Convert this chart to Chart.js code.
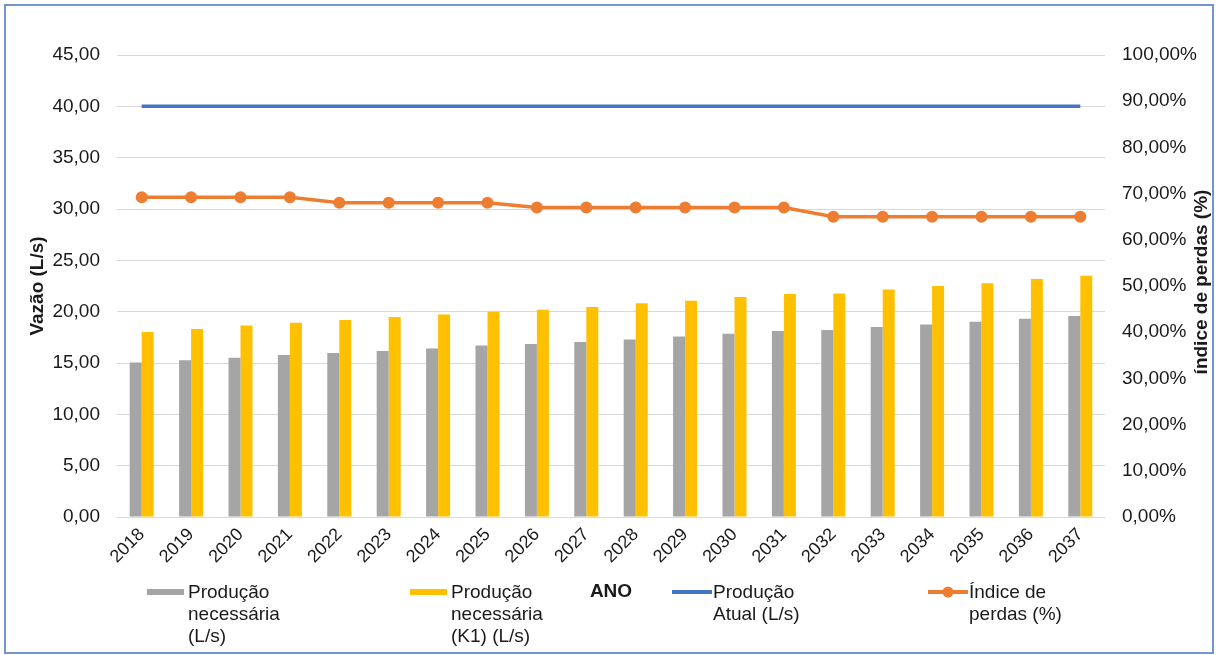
<!DOCTYPE html>
<html>
<head>
<meta charset="utf-8">
<script src="https://cdn.jsdelivr.net/npm/chart.js@4.4.1/dist/chart.umd.min.js"></script>
<style>
  html, body { margin: 0; padding: 0; background: #fff; }
  #wrap { position: relative; width: 1218px; height: 655px; }
</style>
</head>
<body>
<div id="wrap"><canvas id="chart" width="1218" height="655"></canvas></div>
<script>
// data
const anos = ['2018', '2019', '2020', '2021', '2022', '2023', '2024', '2025', '2026', '2027',
              '2028', '2029', '2030', '2031', '2032', '2033', '2034', '2035', '2036', '2037'];
const producaoNecessaria = [15.06, 15.26, 15.51, 15.77, 15.97, 16.16, 16.42, 16.71, 16.85, 17.04,
                            17.30, 17.59, 17.85, 18.11, 18.21, 18.50, 18.76, 19.02, 19.31, 19.57];
const producaoK1 = [18.01, 18.30, 18.66, 18.92, 19.18, 19.47, 19.73, 19.99, 20.19, 20.45,
                    20.81, 21.06, 21.42, 21.71, 21.78, 22.17, 22.49, 22.78, 23.17, 23.50];
const producaoAtual = [40, 40, 40, 40, 40, 40, 40, 40, 40, 40,
                       40, 40, 40, 40, 40, 40, 40, 40, 40, 40];
const indicePerdas = [69.2, 69.2, 69.2, 69.2, 68.0, 68.0, 68.0, 68.0, 67.0, 67.0,
                      67.0, 67.0, 67.0, 67.0, 65.0, 65.0, 65.0, 65.0, 65.0, 65.0];

const tituloEsq = 'Vazão (L/s)';
const tituloDir = 'índice de perdas (%)';
const tituloX = 'ANO';

const FONT = '"Liberation Sans", Arial, sans-serif';
const TXT = '#1a1a1a';

Chart.defaults.font.family = FONT;
Chart.defaults.font.size = 19;
Chart.defaults.color = TXT;

function virgula(v, dec) {
  return v.toFixed(dec).replace('.', ',');
}

// split a label into lines no wider than maxw
function quebra(ctx, texto, maxw) {
  const palavras = texto.split(' ');
  const linhas = [];
  let atual = '';
  palavras.forEach(p => {
    const teste = atual ? atual + ' ' + p : p;
    if (atual && ctx.measureText(teste).width > maxw) {
      linhas.push(atual);
      atual = p;
    } else {
      atual = teste;
    }
  });
  if (atual) linhas.push(atual);
  return linhas;
}

// legend at the bottom, Excel style with wrapped labels
const legendaX = [147, 410, 672, 928];
const legendaBaixo = {
  id: 'legendaBaixo',
  afterDraw(chart) {
    const ctx = chart.ctx;
    ctx.save();
    ctx.font = '19px ' + FONT;
    chart.data.datasets.forEach((ds, i) => {
      const x = legendaX[i];
      const y = 592;
      if (ds.type === 'bar') {
        ctx.fillStyle = ds.backgroundColor;
        ctx.fillRect(x, y - 3, 37, 6);
      } else {
        ctx.strokeStyle = ds.borderColor;
        ctx.lineWidth = 4;
        ctx.beginPath();
        ctx.moveTo(x, y);
        ctx.lineTo(x + 40, y);
        ctx.stroke();
        if (ds.pointRadius > 0) {
          ctx.fillStyle = ds.borderColor;
          ctx.beginPath();
          ctx.arc(x + 20, y, 5.5, 0, Math.PI * 2);
          ctx.fill();
        }
      }
      ctx.fillStyle = TXT;
      ctx.textAlign = 'left';
      ctx.textBaseline = 'alphabetic';
      const linhas = quebra(ctx, ds.label, 112);
      linhas.forEach((l, k) => ctx.fillText(l, x + 41, 598 + k * 22));
    });

    // right axis title reads bottom-to-top like the left one
    const area = chart.chartArea;
    ctx.font = 'bold 19px ' + FONT;
    ctx.fillStyle = TXT;
    ctx.textAlign = 'center';
    ctx.textBaseline = 'middle';
    ctx.translate(1202, (area.top + area.bottom) / 2 - 4);
    ctx.rotate(-Math.PI / 2);
    ctx.fillText(tituloDir, 0, 0);
    ctx.restore();

    // frame round the chart
    ctx.save();
    ctx.strokeStyle = '#7397cd';
    ctx.lineWidth = 2;
    ctx.strokeRect(5, 5, 1208, 648);
    ctx.restore();
  }
};

const ctx = document.getElementById('chart').getContext('2d');
const myChart = new Chart(ctx, {
  data: {
    labels: anos,
    datasets: [{
      type: 'bar',
      label: 'Produção necessária (L/s)',
      data: producaoNecessaria,
      backgroundColor: '#a5a5a5',
      yAxisID: 'y',
      order: 2,
    }, {
      type: 'bar',
      label: 'Produção necessária (K1) (L/s)',
      data: producaoK1,
      backgroundColor: '#ffc000',
      yAxisID: 'y',
      order: 2,
    }, {
      type: 'line',
      label: 'Produção Atual (L/s)',
      data: producaoAtual,
      borderColor: '#4472c4',
      backgroundColor: '#4472c4',
      borderWidth: 3.5,
      pointRadius: 0,
      yAxisID: 'y',
      order: 1,
    }, {
      type: 'line',
      label: 'Índice de perdas (%)',
      data: indicePerdas,
      borderColor: '#ed7d31',
      backgroundColor: '#ed7d31',
      borderWidth: 3.5,
      pointRadius: 6,
      pointBorderWidth: 0,
      yAxisID: 'y1',
      order: 1,
    }]
  },
  options: {
    responsive: false,
    animation: false,
    devicePixelRatio: 1,
    layout: { padding: { top: 55, left: 0, right: 0, bottom: 0 } },
    datasets: {
      bar: { categoryPercentage: 0.486, barPercentage: 1.0 }
    },
    plugins: {
      legend: { display: false },
      tooltip: { enabled: false },
    },
    scales: {
      x: {
        grid: { display: false },
        border: { display: false },
        ticks: { minRotation: 45, maxRotation: 45, autoSkip: false, padding: -1, font: { size: 18 } },
        title: {
          display: true,
          text: tituloX,
          font: { size: 19, weight: 'bold' },
          padding: { top: 0, bottom: 52 },
        },
        afterFit(scale) { scale.height = 138; },
      },
      y: {
        position: 'left',
        min: 0,
        max: 45,
        ticks: { stepSize: 5, padding: 17, callback: v => virgula(v, 2) },
        grid: { color: '#d9d9d9', drawTicks: false },
        border: { display: false },
        title: {
          display: true,
          text: tituloEsq,
          font: { size: 19, weight: 'bold' },
          padding: { top: 26, bottom: 0 },
        },
        afterFit(scale) { scale.width = 117; },
      },
      y1: {
        position: 'right',
        min: 0,
        max: 100,
        ticks: { stepSize: 10, padding: 17, callback: v => virgula(v, 2) + '%' },
        grid: { drawOnChartArea: false, drawTicks: false },
        border: { display: false },
        afterFit(scale) { scale.width = 113; },
      },
    },
  },
  plugins: [legendaBaixo],
});
</script>
</body>
</html>
